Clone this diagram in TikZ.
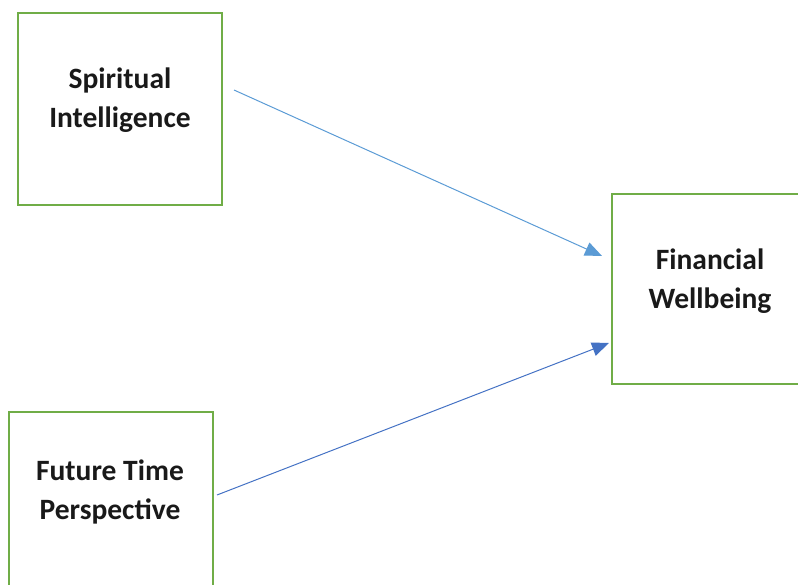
\documentclass[tikz,border=0pt]{standalone}
\usepackage{fontspec}
\setmainfont{Carlito}
\usetikzlibrary{arrows.meta}
\definecolor{boxgreen}{HTML}{70AD47}
\definecolor{lightblue}{HTML}{5B9BD5}
\definecolor{darkblue}{HTML}{4472C4}
\begin{document}
\begin{tikzpicture}[x=1pt,y=-1pt,
  box/.style={draw=boxgreen,line width=2.6pt},
  lbl/.style={font=\fontsize{29.5}{39}\selectfont\bfseries,align=center,inner sep=0pt,text=black!90},
  link/.style={line width=1pt,-{Triangle[length=17pt,width=14pt]}}]
\useasboundingbox (0,0) rectangle (798,585);
\begin{scope}
\clip (0,0) rectangle (798,585);
% the three construct boxes
\draw[box] (18,13) rectangle (222,205);
\draw[box] (612,194) rectangle (812,384);
\draw[box] (9,412) rectangle (213,600);
\end{scope}
% labels
\node[lbl] (si) at (120,100.5) {Spiritual\\Intelligence};
\node[lbl] (fw) at (710,281.5) {Financial\\Wellbeing};
\node[lbl] (ftp) at (110,492) {Future Time\\Perspective};
% connector end points
\coordinate (s1) at (234,90);
\coordinate (t1) at (602,256);
\coordinate (s2) at (217,495);
\coordinate (t2) at (609,343);
\draw[link,lightblue] (s1) -- (t1);
\draw[link,darkblue] (s2) -- (t2);
\end{tikzpicture}
\end{document}
